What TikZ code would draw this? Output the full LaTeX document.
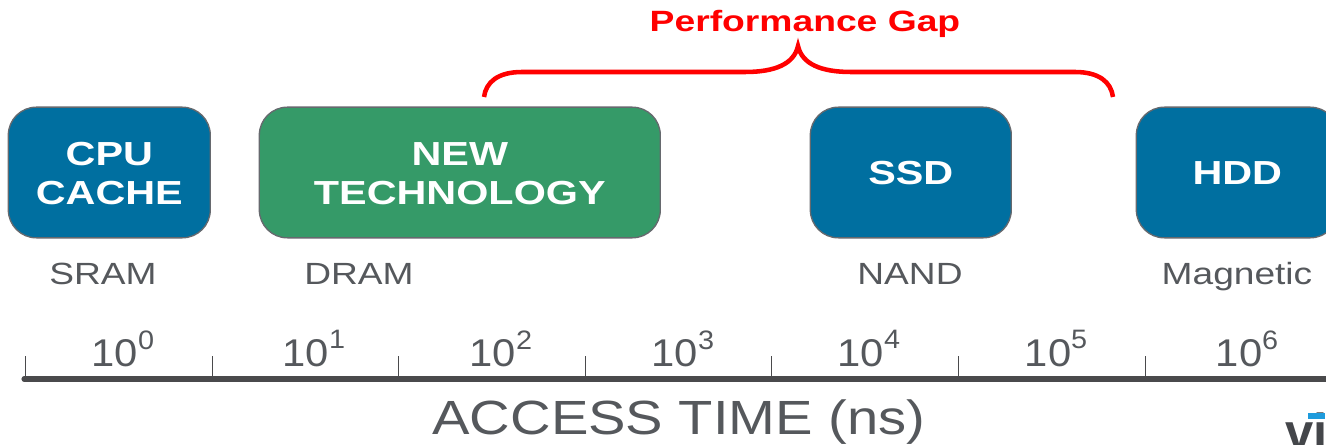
\documentclass[tikz,border=0pt]{standalone}
\usepackage{graphicx}
\usepackage{fontspec}
\setmainfont{Liberation Sans}
\definecolor{boxblue}{HTML}{006FA0}
\definecolor{boxgreen}{HTML}{359A68}
\definecolor{boxedge}{HTML}{66696E}
\definecolor{txtgray}{HTML}{55585C}
\definecolor{axisgray}{HTML}{4A4A4C}
\definecolor{logoblue}{HTML}{1E9BDC}
\newcommand\sxx[2][1.24]{\scalebox{#1}[1]{\begin{tabular}{@{}c@{}}#2\end{tabular}}}
\newcommand\lowered[1]{\raisebox{-3.4pt}[\height][\depth]{#1}}
\newcommand\pw[2]{#1\raisebox{0.46em}{\fontsize{20}{20}\selectfont #2}}
\begin{document}
\begin{tikzpicture}[x=0.75pt,y=-0.75pt,
  techbox/.style={draw=boxedge,line width=1pt,rounded corners=21pt,inner sep=0pt,text=white,align=center,minimum height=98pt,font=\fontsize{25}{29.5}\selectfont\bfseries},
  sublabel/.style={text=txtgray,inner sep=0pt,font=\fontsize{23}{27}\selectfont},
  ticklabel/.style={text=txtgray,inner sep=0pt,font=\fontsize{29}{32}\selectfont},
  axistick/.style={draw=axisgray,line width=0.6pt},
  bracket/.style={draw=red,line width=3.4pt}]
\useasboundingbox (0,0) rectangle (1326,445);
\clip (0,0) rectangle (1326,445);
% boxes
\node[techbox,fill=boxblue,minimum width=151.5pt] (cpu) at (109.3,172.5) {\lowered{\sxx{CPU\\CACHE}}};
\node[techbox,fill=boxgreen,minimum width=300.75pt] (newtech) at (459.8,172.5) {\lowered{\sxx{NEW\\TECHNOLOGY}}};
\node[techbox,fill=boxblue,minimum width=150.75pt] (ssd) at (910.8,172.5) {\lowered{\sxx{SSD}}};
\node[techbox,fill=boxblue,minimum width=151.5pt] (hdd) at (1237.3,172.5) {\lowered{\sxx{HDD}}};
% sublabels
\node[sublabel] (sram) at (103,277) {\sxx[1.21]{SRAM}};
\node[sublabel] (dram) at (359,277) {\sxx[1.21]{DRAM}};
\node[sublabel] (nand) at (910,277) {\sxx[1.21]{NAND}};
\node[sublabel] (magnetic) at (1237,277) {\sxx[1.21]{Magnetic}};
% axis
\coordinate (axisL) at (24,379);
\coordinate (axisR) at (1330,379);
\draw[draw=axisgray,line width=3.8pt,line cap=round] (axisL) -- (axisR);
\foreach \xx in {25,212,398,585,771,958,1145}{
  \coordinate (tb) at (\xx,379);
  \coordinate (tt) at (\xx,356);
  \draw[axistick] (tb) -- (tt);
}
\node[ticklabel] (e0) at (123,355) {\sxx[1.08]{\pw{10}{0}}};
\node[ticklabel] (e1) at (314,355) {\sxx[1.08]{\pw{10}{1}}};
\node[ticklabel] (e2) at (501,355) {\sxx[1.08]{\pw{10}{2}}};
\node[ticklabel] (e3) at (683,355) {\sxx[1.08]{\pw{10}{3}}};
\node[ticklabel] (e4) at (869,355) {\sxx[1.08]{\pw{10}{4}}};
\node[ticklabel] (e5) at (1056,355) {\sxx[1.08]{\pw{10}{5}}};
\node[ticklabel] (e6) at (1247,355) {\sxx[1.08]{\pw{10}{6}}};
\node[text=txtgray,inner sep=0pt,font=\fontsize{36}{40}\selectfont] (axt) at (679,424) {\sxx[1.17]{ACCESS TIME (ns)}};
% brace
\coordinate (bl) at (484,97);
\coordinate (bm) at (798,46);
\coordinate (br) at (1113,97);
\draw[bracket] (bl) .. controls (486,82) and (498,72) .. (522,72) -- (745,72) .. controls (775,72) and (794,64) .. (bm)
  .. controls (802,64) and (821,72) .. (851,72) -- (1075,72) .. controls (1099,72) and (1111,82) .. (br);
\node[text=red,inner sep=0pt,font=\fontsize{22}{26}\selectfont\bfseries] (gap) at (805,25) {\sxx[1.27]{Performance Gap}};
% logo
\node[anchor=base west,inner sep=0pt,text=txtgray!80!black,font=\fontsize{38}{42}\selectfont\bfseries] (logo) at (1285,449) {vi};
\fill[logoblue] (1308,413) rectangle (1325,419);
\end{tikzpicture}
\end{document}
